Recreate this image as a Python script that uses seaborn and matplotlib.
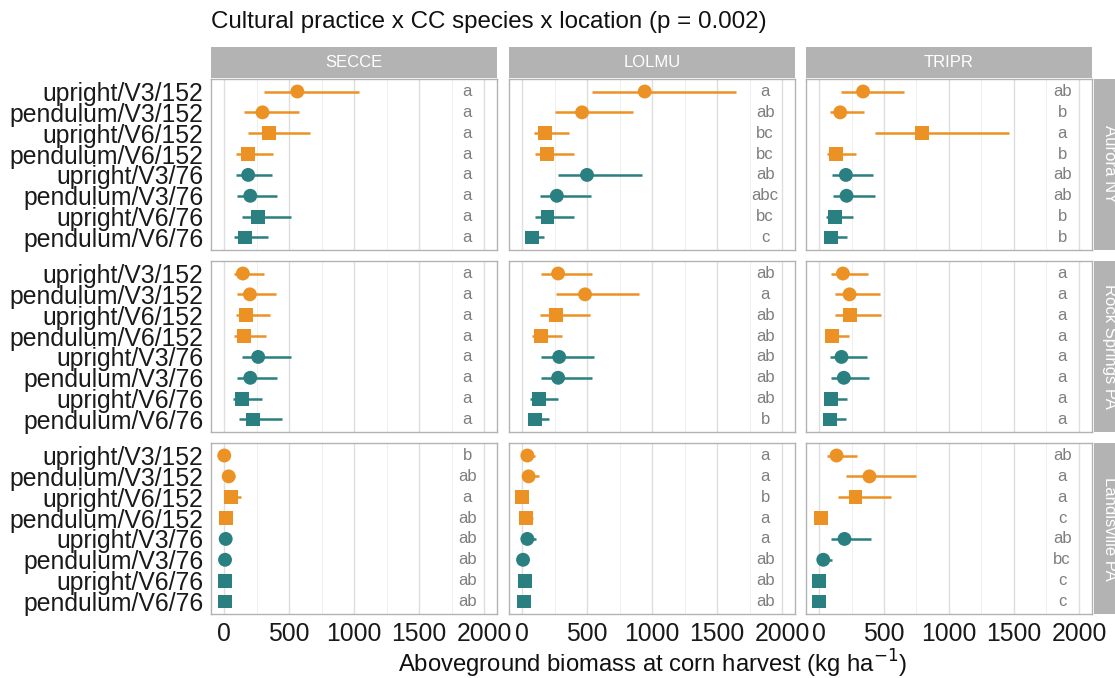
import numpy as np
import pandas as pd
import matplotlib
matplotlib.use("Agg")
import matplotlib.pyplot as plt
import seaborn as sns

# ---------------- data ----------------
treatments = ["upright/V3/152", "pendulum/V3/152", "upright/V6/152", "pendulum/V6/152",
              "upright/V3/76", "pendulum/V3/76", "upright/V6/76", "pendulum/V6/76"]
species = ["SECCE", "LOLMU", "TRIPR"]
locations = ["Aurora NY", "Rock Springs PA", "Landisville PA"]

# Aurora NY
aur_secce_mean = [564, 296, 344, 186, 186, 202, 263, 163]
aur_secce_lo = [309, 156, 181, 92, 92, 102, 135, 79]
aur_secce_hi = [1038, 577, 658, 378, 372, 411, 518, 339]
aur_secce_let = ["a", "a", "a", "a", "a", "a", "a", "a"]

aur_lolmu_mean = [944, 462, 179, 194, 500, 268, 196, 77]
aur_lolmu_lo = [541, 250, 89, 97, 276, 140, 102, 38]
aur_lolmu_hi = [1648, 855, 362, 398, 923, 531, 401, 173]
aur_lolmu_let = ["a", "ab", "bc", "bc", "ab", "abc", "bc", "c"]

aur_tripr_mean = [339, 163, 793, 130, 207, 212, 120, 92]
aur_tripr_lo = [173, 82, 434, 59, 99, 105, 56, 46]
aur_tripr_hi = [653, 347, 1462, 288, 418, 429, 258, 219]
aur_tripr_let = ["ab", "b", "a", "b", "ab", "ab", "b", "b"]

# Rock Springs PA
rs_secce_mean = [145, 199, 171, 156, 263, 202, 138, 224]
rs_secce_lo = [77, 102, 89, 77, 138, 102, 71, 117]
rs_secce_hi = [309, 403, 352, 324, 518, 408, 293, 449]
rs_secce_let = ["a", "a", "a", "a", "a", "a", "a", "a"]

rs_lolmu_mean = [278, 485, 263, 148, 286, 278, 133, 97]
rs_lolmu_lo = [143, 263, 138, 77, 148, 143, 64, 51]
rs_lolmu_hi = [541, 898, 520, 311, 556, 541, 276, 209]
rs_lolmu_let = ["ab", "a", "ab", "ab", "ab", "ab", "ab", "b"]

rs_tripr_mean = [184, 235, 237, 102, 173, 191, 92, 87]
rs_tripr_lo = [89, 120, 120, 51, 87, 92, 46, 41]
rs_tripr_hi = [378, 472, 480, 230, 367, 388, 212, 204]
rs_tripr_let = ["a", "a", "a", "a", "a", "a", "a", "a"]

# Landisville PA
la_secce_mean = [2, 36, 54, 15, 13, 8, 10, 8]
la_secce_lo = [0, 12, 25, 5, 4, 2, 3, 2]
la_secce_hi = [12, 84, 128, 35, 30, 20, 25, 20]
la_secce_let = ["b", "ab", "a", "ab", "ab", "ab", "ab", "ab"]

la_lolmu_mean = [41, 51, 3, 31, 41, 8, 26, 13]
la_lolmu_lo = [15, 20, 0, 10, 15, 2, 8, 4]
la_lolmu_hi = [102, 128, 12, 82, 107, 25, 62, 35]
la_lolmu_let = ["a", "a", "b", "a", "a", "ab", "ab", "ab"]

la_tripr_mean = [135, 388, 281, 15, 196, 33, 3, 3]
la_tripr_lo = [64, 204, 145, 5, 94, 10, 0, 0]
la_tripr_hi = [296, 745, 556, 40, 401, 102, 10, 10]
la_tripr_let = ["ab", "a", "a", "c", "ab", "bc", "c", "c"]

title_text = "Cultural practice x CC species x location (p = 0.002)"
xlabel_text = "Aboveground biomass at corn harvest (kg ha$^{-1}$)"
xticks = [0, 500, 1000, 1500, 2000]
minor_ticks = [250, 750, 1250, 1750]

# ---------------- table ----------------
panels = {
    ("Aurora NY", "SECCE"): (aur_secce_mean, aur_secce_lo, aur_secce_hi, aur_secce_let),
    ("Aurora NY", "LOLMU"): (aur_lolmu_mean, aur_lolmu_lo, aur_lolmu_hi, aur_lolmu_let),
    ("Aurora NY", "TRIPR"): (aur_tripr_mean, aur_tripr_lo, aur_tripr_hi, aur_tripr_let),
    ("Rock Springs PA", "SECCE"): (rs_secce_mean, rs_secce_lo, rs_secce_hi, rs_secce_let),
    ("Rock Springs PA", "LOLMU"): (rs_lolmu_mean, rs_lolmu_lo, rs_lolmu_hi, rs_lolmu_let),
    ("Rock Springs PA", "TRIPR"): (rs_tripr_mean, rs_tripr_lo, rs_tripr_hi, rs_tripr_let),
    ("Landisville PA", "SECCE"): (la_secce_mean, la_secce_lo, la_secce_hi, la_secce_let),
    ("Landisville PA", "LOLMU"): (la_lolmu_mean, la_lolmu_lo, la_lolmu_hi, la_lolmu_let),
    ("Landisville PA", "TRIPR"): (la_tripr_mean, la_tripr_lo, la_tripr_hi, la_tripr_let),
}
rows = []
for (loc, sp), (m, lo, hi, let) in panels.items():
    for i, t in enumerate(treatments):
        _, stage, spacing = t.split("/")
        rows.append(dict(location=loc, species=sp, treatment=t, ypos=i,
                         stage=stage, spacing=spacing,
                         mean=m[i], lo=lo[i], hi=hi[i], letter=let[i]))
df = pd.DataFrame(rows)

# ---------------- style ----------------
sns.set_theme(style="white")
plt.rcParams["font.family"] = ["Liberation Sans", "DejaVu Sans"]

ORANGE = "#EC9123"
TEAL = "#2A7F80"
palette = {"152": ORANGE, "76": TEAL}
markers = {"V3": "o", "V6": "s"}
BORDER = "#B3B3B3"
GRID = "#DEDEDE"
GRID_MINOR = "#EDEDED"

W, H = 1115, 678
fig = plt.figure(figsize=(W / 100, H / 100), dpi=100)

col_left = [211, 509, 806]
col_w = 286
row_top = [79, 261, 443]
row_h = 171
strip_h = 31

for r, loc in enumerate(locations):
    for c, sp in enumerate(species):
        left = col_left[c] / W
        bottom = 1 - (row_top[r] + row_h) / H
        ax = fig.add_axes([left, bottom, col_w / W, row_h / H])
        sub = df[(df.location == loc) & (df.species == sp)]

        for x in xticks:
            ax.axvline(x, color=GRID, lw=1.0, zorder=0)
        for x in minor_ticks:
            ax.axvline(x, color=GRID_MINOR, lw=0.6, zorder=0)

        for spc, col in palette.items():
            s2 = sub[sub.spacing == spc]
            ax.hlines(s2["ypos"], s2["lo"], s2["hi"], color=col, lw=1.8, zorder=2)
        sns.scatterplot(data=sub, x="mean", y="ypos", hue="spacing", style="stage",
                        palette=palette, markers=markers, s=100, linewidth=0,
                        legend=False, ax=ax, zorder=3)
        for _, rw in sub.iterrows():
            ax.text(1870, rw["ypos"], rw["letter"], ha="center", va="center",
                    fontsize=12, color="#7F7F7F")

        ax.set_xlim(-100, 2100)
        ax.set_ylim(len(treatments) - 1 + 0.6, -0.6)
        ax.set_xlabel("")
        ax.set_ylabel("")
        ax.set_xticks(xticks)
        ax.set_yticks(range(len(treatments)))
        for sp_ in ax.spines.values():
            sp_.set_color(BORDER)
            sp_.set_linewidth(1.0)
        ax.tick_params(axis="both", length=3.5, width=0.8, color=BORDER,
                       labelcolor="#1A1A1A", labelsize=17.8, pad=2)
        if c == 0:
            ax.set_yticklabels(treatments)
        else:
            ax.set_yticklabels([])
        if r == 2:
            ax.set_xticklabels([str(x) for x in xticks])
        else:
            ax.set_xticklabels([])
            ax.tick_params(axis="x", length=0)

# top strips
for c, sp in enumerate(species):
    sax = fig.add_axes([col_left[c] / W, 1 - (row_top[0] - 1) / H, col_w / W, strip_h / H])
    sax.set_facecolor(BORDER)
    sax.set_xticks([]); sax.set_yticks([])
    for s_ in sax.spines.values():
        s_.set_visible(False)
    sax.text(0.5, 0.5, sp, ha="center", va="center", color="white",
             fontsize=12, transform=sax.transAxes)

# right strips
for r, loc in enumerate(locations):
    rx = (col_left[2] + col_w + 2) / W
    rax = fig.add_axes([rx, 1 - (row_top[r] + row_h) / H, strip_h / W, row_h / H])
    rax.set_facecolor(BORDER)
    rax.set_xticks([]); rax.set_yticks([])
    for s_ in rax.spines.values():
        s_.set_visible(False)
    rax.text(0.5, 0.5, loc, ha="center", va="center", color="white",
             fontsize=12, rotation=270, transform=rax.transAxes)

fig.text(211 / W, 1 - 22 / H, title_text, ha="left", va="center", fontsize=17.4,
         color="#111111")
fig.text(653 / W, 1 - 664 / H, xlabel_text, ha="center", va="center", fontsize=17.2,
         color="#111111")

fig.savefig("out.png", dpi=100)
